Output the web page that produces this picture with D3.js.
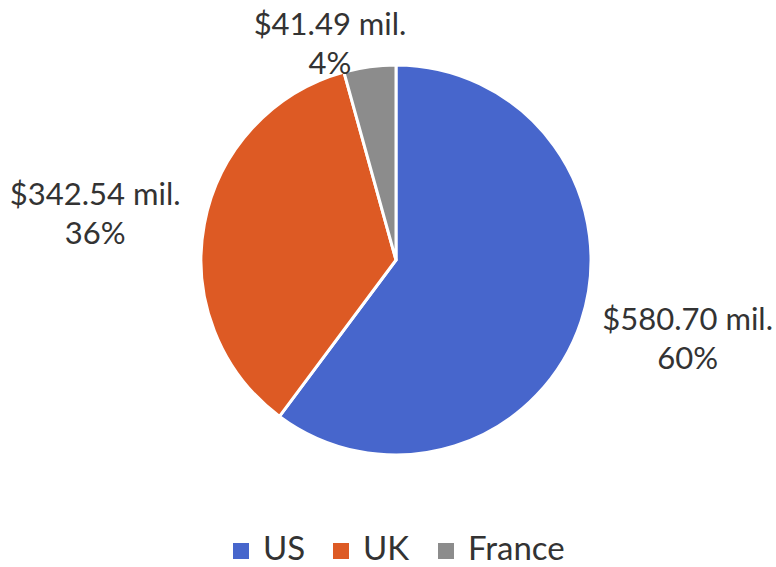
<!DOCTYPE html>
<html>
<head>
<meta charset="utf-8">
<script src="https://cdn.jsdelivr.net/npm/d3@7"></script>
<style>
  body { margin: 0; background: #fff; }
  text { font-family: Lato, "Open Sans", sans-serif; fill: #333; }
</style>
</head>
<body>
<svg width="776" height="567"></svg>
<script>
const countries = ["US", "UK", "France"];
const revenue = [580.70, 342.54, 41.49];
const percentLabels = ["60%", "36%", "4%"];
const colors = ["#4766cc", "#dd5a24", "#8c8c8c"];

const svg = d3.select("svg");
const cx = 396, cy = 260, radius = 195;

const data = countries.map((c, i) => ({ name: c, value: revenue[i], pct: percentLabels[i], color: colors[i] }));

const pie = d3.pie().value(d => d.value).sort(null);
const arc = d3.arc().innerRadius(0).outerRadius(radius);
const labelArc = d3.arc().innerRadius(302).outerRadius(302);

const g = svg.append("g").attr("transform", `translate(${cx},${cy})`);
const arcs = pie(data);

g.selectAll("path")
  .data(arcs)
  .enter().append("path")
  .attr("d", arc)
  .attr("fill", d => d.data.color)
  .attr("stroke", "#fff")
  .attr("stroke-width", 3)
  .attr("stroke-linejoin", "round");

// small nudges so the labels land where excel put them
const nudge = { US: [5, -13], UK: [-4, 13] };

const label = g.selectAll("g.label")
  .data(arcs)
  .enter().append("g")
  .attr("class", "label")
  .attr("transform", d => {
    let [x, y] = labelArc.centroid(d);
    if (d.data.name === "France") {
      // thin slice: label goes above the pie
      x = -66; y = -213;
    } else {
      x += nudge[d.data.name][0];
      y += nudge[d.data.name][1];
    }
    return `translate(${x},${y})`;
  });

label.append("text")
  .attr("text-anchor", "middle")
  .attr("y", -12)
  .attr("font-size", 31)
  .text(d => "$" + d3.format(".2f")(d.data.value) + " mil.");

label.append("text")
  .attr("text-anchor", "middle")
  .attr("y", 27)
  .attr("font-size", 31)
  .text(d => d.data.pct);

// legend
const legend = svg.append("g").attr("transform", "translate(0,550)");
const itemX = d3.scaleOrdinal().domain(countries).range([233, 333, 438]);

const item = legend.selectAll("g")
  .data(data)
  .enter().append("g")
  .attr("transform", d => `translate(${itemX(d.name)},0)`);

item.append("rect")
  .attr("x", 0).attr("y", -7)
  .attr("width", 16).attr("height", 16)
  .attr("fill", d => d.color);

item.append("text")
  .attr("x", 30)
  .attr("y", 10)
  .attr("font-size", 33)
  .text(d => d.name);
</script>
</body>
</html>
